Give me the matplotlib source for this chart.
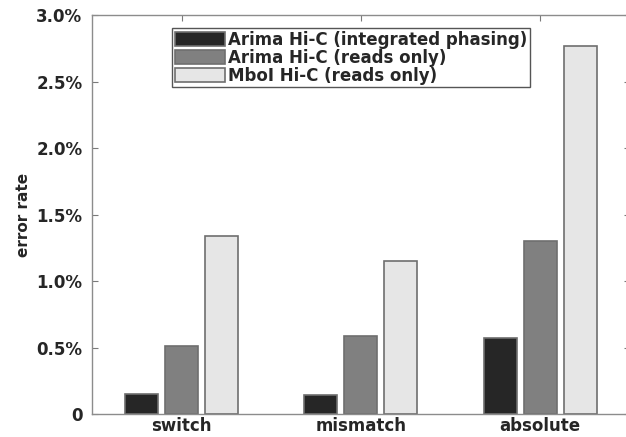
import numpy as np
import matplotlib
matplotlib.use("Agg")
import matplotlib.pyplot as plt

categories = ["switch", "mismatch", "absolute"]
series_names = ["Arima Hi-C (integrated phasing)",
                "Arima Hi-C (reads only)",
                "MboI Hi-C (reads only)"]
# error rates in percent
integrated = [0.15, 0.14, 0.57]
arima_reads = [0.51, 0.59, 1.30]
mboi_reads = [1.34, 1.15, 2.77]
y_ticks = [0, 0.5, 1.0, 1.5, 2.0, 2.5, 3.0]
y_labels = ["0", "0.5%", "1.0%", "1.5%", "2.0%", "2.5%", "3.0%"]

colors = ["#262626", "#808080", "#e6e6e6"]
edge = "#6e6e6e"
txt = "#262626"

fig = plt.figure(figsize=(6.26, 4.37), dpi=100)
ax = fig.add_axes([0.147, 0.0526, 0.859, 0.913])

x = np.arange(1, len(categories) + 1)
offsets = [-0.223, 0, 0.223]
width = 0.185
for vals, off, col, name in zip([integrated, arima_reads, mboi_reads],
                                offsets, colors, series_names):
    ax.bar(x + off, vals, width, color=col, edgecolor=edge,
           linewidth=1.2, label=name, zorder=2)

ax.set_xlim(0.5, 3.5)
ax.set_ylim(0, 3.0)
ax.set_xticks(x)
ax.set_xticklabels(categories, fontsize=12, fontweight="bold", color=txt)
ax.set_yticks(y_ticks)
ax.set_yticklabels(y_labels, fontsize=12, fontweight="bold", color=txt)
ax.set_ylabel("error rate", fontsize=11, fontweight="bold", color=txt,
              labelpad=4)

ax.tick_params(direction="in", length=4, width=0.8, color="#7a7a7a",
               top=True, right=True)
ax.tick_params(axis="y", pad=7)
ax.tick_params(axis="x", pad=2.5)
for s in ax.spines.values():
    s.set_color("#8c8c8c")
    s.set_linewidth(1.0)

leg = ax.legend(loc="upper left", bbox_to_anchor=(0.149, 0.967),
                prop={"size": 12, "weight": "bold"}, handlelength=3.0,
                handleheight=0.85, handletextpad=0.2, labelspacing=0.0,
                borderpad=0.15, borderaxespad=0, fancybox=False,
                framealpha=1)
leg.get_frame().set_edgecolor("#555555")
leg.get_frame().set_linewidth(1.0)
for t in leg.get_texts():
    t.set_color(txt)

fig.savefig("out.png", dpi=100)
